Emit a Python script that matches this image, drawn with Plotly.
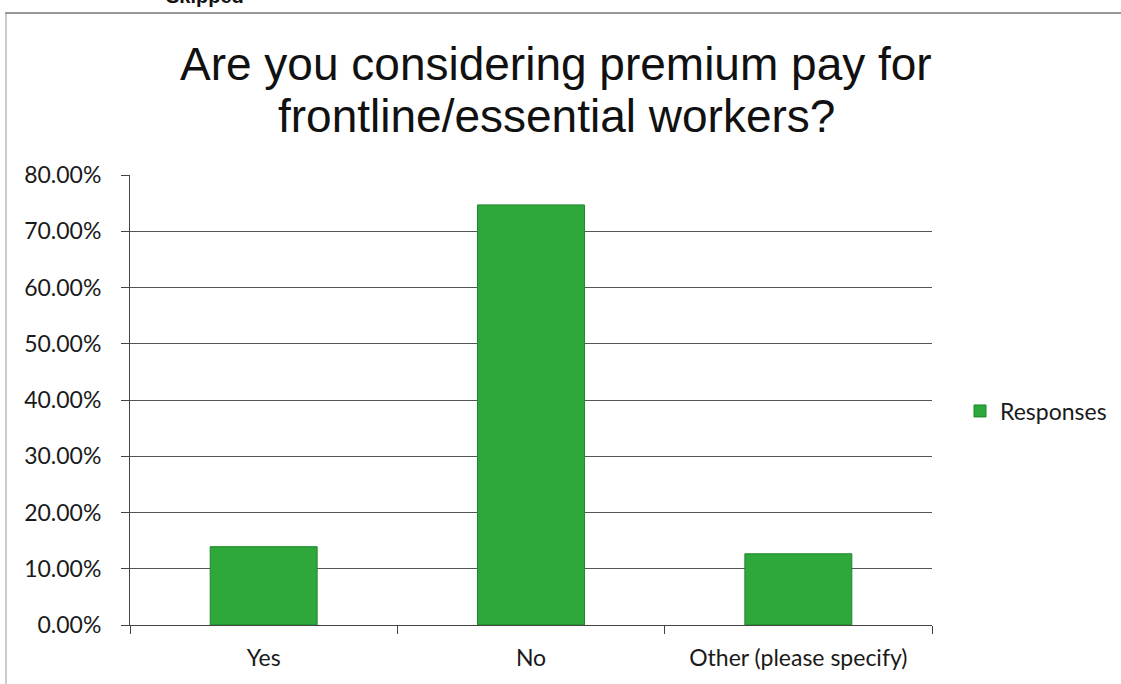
import plotly.graph_objects as go

# Survey results
categories = ["Yes", "No", "Other (please specify)"]
responses = [13.92, 74.68, 12.66]  # percent of respondents
y_ticks = [0, 10, 20, 30, 40, 50, 60, 70, 80]
y_tick_labels = [f"{v:.2f}%" for v in y_ticks]
title_lines = ["Are you considering premium pay for", "frontline/essential workers?"]

W, H = 1121, 684


def py(px):
    """Convert a pixel row (from the top) to paper y."""
    return (H - px) / H


fig = go.Figure()
fig.add_trace(go.Bar(
    x=categories,
    y=responses,
    name="Responses",
    marker=dict(color="#2ea83a", line=dict(color="#1d8629", width=1)),
    width=0.4,
    showlegend=True,
))

tick_font = dict(family="Lato, Calibri, Carlito, sans-serif", size=23, color="#1a1a1a")
title_font = dict(family="Liberation Sans, Arial, sans-serif", size=46, color="#111")

fig.update_layout(
    width=W, height=H,
    margin=dict(l=0, r=0, t=0, b=0, autoexpand=False),
    paper_bgcolor="white",
    plot_bgcolor="white",
    xaxis=dict(
        domain=[130 / W, 932 / W],
        type="category",
        automargin=False,
        showline=True, linecolor="#444", linewidth=1,
        ticks="outside", ticklen=8, tickcolor="#444",
        tickson="boundaries",
        tickfont=tick_font,
        ticklabelstandoff=12,
        showgrid=False,
    ),
    yaxis=dict(
        domain=[py(625), py(175)],
        range=[0, 80],
        automargin=False,
        tickvals=y_ticks,
        ticktext=y_tick_labels,
        showline=True, linecolor="#444", linewidth=1,
        ticks="outside", ticklen=8, tickcolor="#444",
        tickfont=tick_font,
        ticklabelstandoff=15,
        showgrid=True, gridcolor="#555", gridwidth=1,
        zeroline=False,
    ),
    legend=dict(
        x=960 / W, y=py(411), xanchor="left", yanchor="middle",
        font=tick_font, bgcolor="rgba(0,0,0,0)",
    ),
    shapes=[
        # chart frame
        dict(type="line", xref="paper", yref="paper",
             x0=5 / W, x1=1.0, y0=py(13), y1=py(13),
             line=dict(color="#777", width=1.5)),
        dict(type="line", xref="paper", yref="paper",
             x0=6 / W, x1=6 / W, y0=0, y1=py(13),
             line=dict(color="#999", width=1)),
    ],
    annotations=[
        dict(text=title_lines[0], x=556 / W, y=py(64), xref="paper", yref="paper",
             xanchor="center", yanchor="middle", showarrow=False, font=title_font),
        dict(text=title_lines[1], x=556 / W, y=py(116), xref="paper", yref="paper",
             xanchor="center", yanchor="middle", showarrow=False, font=title_font),
        dict(text="<b>Skipped</b>", x=205 / W, y=py(-4), xref="paper", yref="paper",
             xanchor="center", yanchor="middle", showarrow=False,
             font=dict(family="Liberation Sans, Arial, sans-serif", size=20, color="#111")),
    ],
)

fig.write_html("out.html")
